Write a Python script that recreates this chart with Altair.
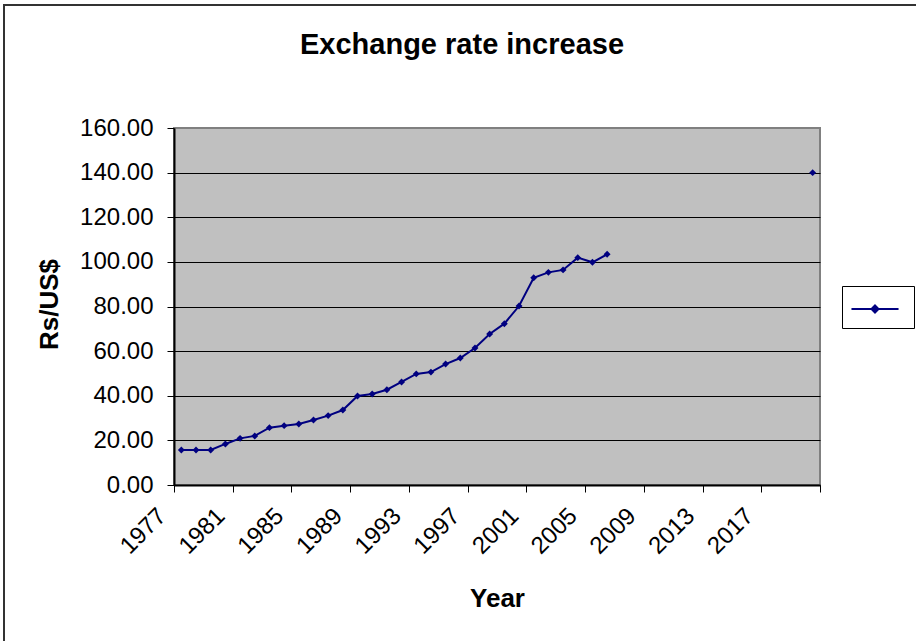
import altair as alt
import pandas as pd

# ---- data ----
years = list(range(1977, 2007)) + [2020]
rates = [15.7, 15.7, 15.7, 18.4, 20.9, 22.0, 25.7, 26.6, 27.3, 29.1,
         31.1, 33.6, 39.9, 40.8, 42.7, 46.2, 49.8, 50.6, 54.2, 56.9,
         61.4, 67.7, 72.3, 80.2, 92.9, 95.3, 96.4, 101.9, 99.8, 103.4,
         140.0]
series_name = ["Rs/US$"]
y_ticks = [0, 20, 40, 60, 80, 100, 120, 140, 160]
x_boundaries = [y - 0.5 for y in range(1977, 2022)]  # category edges 1976.5 .. 2020.5

df = pd.DataFrame({"Year": years, "Rate": rates, "Series": series_name * len(years)})

NAVY = "#000080"
FONT = "Liberation Sans"

x_enc = alt.X(
    "Year:Q",
    scale=alt.Scale(domain=[1976.5, 2020.5], nice=False, zero=False),
    axis=alt.Axis(
        values=x_boundaries,
        title="Year",
        titleFont=FONT, titleFontSize=26, titleFontWeight="bold", titleColor="black",
        titleBaseline="alphabetic", titleY=121,
        labelExpr="(datum.value - 1976.5) % 4 == 0 && datum.value < 2020 ? toString(datum.value + 0.5) : ''",
        labelAngle=-45, labelAlign="right", labelBaseline="middle",
        labelOffset=-12, labelPadding=20,
        labelFont=FONT, labelFontSize=24, labelColor="black",
        labelOverlap=False, labelBound=False, labelFlush=False,
        tickSize=7, tickColor="black", tickWidth=1,
        domainColor="black", domainWidth=2, grid=False,
    ),
)
y_enc = alt.Y(
    "Rate:Q",
    scale=alt.Scale(domain=[0, 160], nice=False),
    axis=alt.Axis(
        values=y_ticks, format=".2f",
        title="Rs/US$",
        titleFont=FONT, titleFontSize=26, titleFontWeight="bold", titleColor="black",
        titleBaseline="alphabetic", titleX=-117, titleY=176,
        labelFont=FONT, labelFontSize=24, labelColor="black", labelPadding=14,
        tickSize=7, tickColor="black", tickWidth=1,
        domainColor="black", domainWidth=2,
        grid=True, gridWidth=1,
        gridColor=alt.ConditionalAxisColor(condition={"test": "datum.value == 160", "value": "#808080"}, value="black"),
    ),
)

color_enc = alt.Color(
    "Series:N",
    scale=alt.Scale(range=[NAVY]),
    legend=alt.Legend(
        orient="none", legendX=668, legendY=158,
        title=None, labelExpr="''", labelFontSize=1, labelOffset=8,
        symbolType="M-2.14,0H2.14M0,-0.32L0.32,0L0,0.32L-0.32,0Z",
        symbolSize=484, symbolStrokeWidth=2, symbolOffset=10,
        symbolFillColor=NAVY, symbolStrokeColor=NAVY,
        strokeColor="black", fillColor="white", padding=11,
    ),
)

base = alt.Chart(df).transform_calculate(run="datum.Year > 2010 ? 1 : 0")

line = base.mark_line(strokeWidth=2).encode(x=x_enc, y=y_enc, color=color_enc, detail="run:N")
points = base.mark_point(shape="diamond", filled=True, size=48, opacity=1).encode(
    x="Year:Q", y="Rate:Q", color=color_enc
)

border = alt.Chart(alt.Data(values=[{}])).mark_rect(
    fill="transparent", stroke="#333333", strokeWidth=2
).encode(
    x=alt.value(-170), y=alt.value(-123), x2=alt.value(760), y2=alt.value(530)
)

chart = alt.layer(line, points, border).properties(
    width=646, height=357,
    title=alt.TitleParams(
        "Exchange rate increase", font=FONT, fontSize=29, fontWeight="bold",
        color="black", anchor="middle", dx=-35, baseline="alphabetic", offset=0, dy=79,
    ),
    autosize=alt.AutoSizeParams(type="none"),
    padding={"left": 174, "top": 128, "right": 96, "bottom": 156},
    background="white",
).configure_view(
    fill="#C0C0C0", stroke="#808080", strokeWidth=2
)

chart.save("out.html", embed_options={"renderer": "svg", "actions": False})
